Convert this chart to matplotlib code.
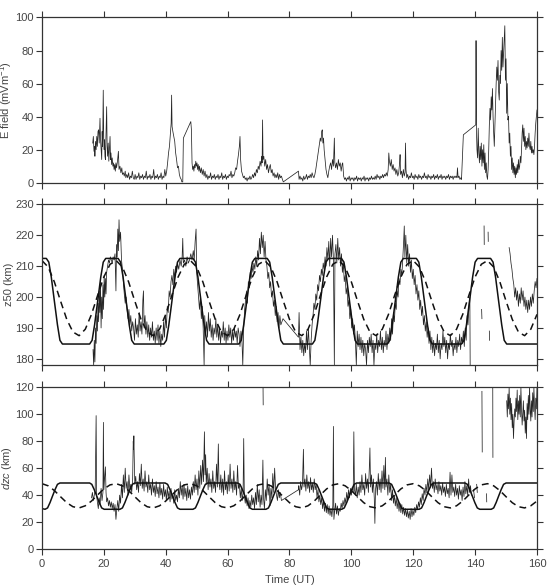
import numpy as np
import matplotlib
matplotlib.use("Agg")
import matplotlib.pyplot as plt

plt.rcParams["font.family"] = "Liberation Sans"
plt.rcParams["mathtext.fontset"] = "custom"
plt.rcParams["mathtext.rm"] = "Liberation Sans"
plt.rcParams["mathtext.it"] = "Liberation Sans:italic"

## --- E field (mV/m) ---
efield = [(16.4,24),(16.6,28),(16.8,19),(17.0,22),(17.1,16),(17.3,25),(17.5,20),(17.7,28),(17.9,22),(18.1,31),
    (18.3,32),(18.5,24),(18.75,39),(18.9,27),(19.1,21),(19.3,14),(19.45,31),(19.6,22),(19.8,56),(19.95,27),
    (20.1,20),(20.2,26),(20.35,16),(20.5,14),(20.7,30),(20.9,46),(21.05,22),(21.2,16),(21.4,24),(21.6,13),
    (21.8,21),(22.0,28),(22.15,14),(22.3,18),(22.5,11),(22.7,15),(22.9,10),(23.1,12),(23.3,8),(23.5,11),
    (23.7,7),(23.9,12),(24.1,9),(24.4,13),(24.7,19),(24.9,8),(25.2,10),(25.5,6),(25.8,9),(26.0,5),(26.3,6),
    (26.6,4),(26.9,7),(27.1,3),(27.4,5),(27.7,3),(28.0,6),(28.3,2),(28.6,4),(28.9,3),(29.2,7),(29.5,3),
    (29.8,2),(30.1,5),(30.4,2),(30.7,4),(31.0,3),(31.3,6),(31.6,2),(31.9,4),(32.2,3),(32.5,5),(32.8,2),
    (33.1,4),(33.4,3),(33.7,7),(34.0,2),(34.3,4),(34.6,3),(34.9,5),(35.2,2),(35.5,4),(35.8,3),(36.1,8),
    (36.4,2),(36.7,4),(37.0,3),(37.3,5),(37.6,2),(37.9,4),(38.2,3),(38.5,6),(38.8,2),(39.1,4),(39.4,3),
    (39.7,8),(40.0,4),(40.3,7),(40.6,12),(40.9,18),(41.2,22),(41.5,30),(41.75,36),(41.9,53),(42.05,34),
    (42.3,31),(42.6,28),(42.9,25),(43.2,18),(43.5,14),(43.8,9),(44.1,10),(44.4,5),(44.7,3),(45.0,2),
    (45.2,0.5),(45.5,0.5),(45.7,27),(48.1,37),(48.3,32),(48.5,12),(48.7,8),(48.9,10),(49.1,7),(49.3,11),
    (49.5,9),(49.7,13),(49.9,10),(50.1,12),(50.3,8),(50.5,11),(50.7,7),(50.9,10),(51.2,6),(51.5,9),(51.8,5),
    (52.1,8),(52.4,4),(52.7,7),(53.0,3),(53.3,5),(53.6,2),(53.9,4),(54.2,3),(54.5,6),(54.8,2),(55.1,4),
    (55.4,3),(55.7,5),(56.0,2),(56.3,4),(56.6,3),(56.9,5),(57.2,2),(57.5,4),(57.8,3),(58.1,6),(58.4,2),
    (58.7,4),(59.0,3),(59.3,5),(59.6,2),(59.9,4),(60.2,3),(60.5,5),(60.8,4),(61.1,7),(61.4,3),(61.7,5),
    (62.0,4),(62.3,6),(62.6,9),(62.9,8),(63.2,13),(63.5,17),(63.8,22),(64.0,28),(64.2,14),(64.5,7),(64.8,5),
    (65.1,3),(65.4,4),(65.7,2),(66.0,3),(66.3,1),(66.6,3),(66.9,2),(67.2,4),(67.5,2),(67.8,3),(68.1,5),
    (68.4,3),(68.7,6),(69.0,4),(69.3,8),(69.6,6),(69.9,10),(70.2,8),(70.5,13),(70.8,10),(71.0,16),(71.15,12),
    (71.3,38),(71.45,14),(71.7,16),(72.0,10),(72.3,14),(72.6,8),(72.9,11),(73.2,6),(73.5,9),(73.8,11),
    (74.1,6),(74.4,8),(74.7,4),(75.0,6),(75.3,3),(75.6,5),(75.9,3),(76.2,6),(76.5,2),(76.8,5),(77.1,3),
    (77.4,4),(77.7,2),(78.0,0.5),(82.9,7),(83.1,2),(83.4,4),(83.7,2),(84.0,3),(84.3,1),(84.6,4),(84.9,2),
    (85.2,3),(85.5,5),(85.8,2),(86.1,4),(86.4,3),(86.7,5),(87.0,3),(87.3,6),(87.6,4),(87.9,3),(88.2,5),
    (88.5,8),(88.8,12),(89.1,16),(89.4,20),(89.7,24),(89.95,27),(90.2,25),(90.4,31),(90.6,32),(90.8,24),
    (91.0,27),(91.2,20),(91.5,14),(91.8,8),(92.1,5),(92.4,3),(92.7,7),(93.0,10),(93.3,12),(93.6,8),(93.9,14),
    (94.2,10),(94.5,27),(94.65,12),(94.9,9),(95.2,12),(95.5,8),(95.8,14),(96.1,10),(96.4,12),(96.7,7),
    (97.0,11),(97.2,12),(97.5,4),(97.8,2),(98.1,3),(98.4,1),(98.7,3),(99.0,2),(99.3,4),(99.6,1),(99.9,3),
    (100.2,2),(100.5,3),(100.8,1),(101.1,3),(101.4,2),(101.7,4),(102.0,1),(102.3,3),(102.6,2),(102.9,3),
    (103.2,1),(103.5,3),(103.8,2),(104.1,4),(104.4,1),(104.7,3),(105.0,2),(105.3,3),(105.6,1),(105.9,3),
    (106.2,2),(106.5,4),(106.8,2),(107.1,3),(107.4,2),(107.7,4),(108.0,2),(108.3,5),(108.6,3),(108.9,4),
    (109.2,2),(109.5,4),(109.8,3),(110.1,5),(110.4,3),(110.7,5),(111.0,4),(111.3,6),(111.6,4),(111.9,8),
    (112.1,18),(112.3,13),(112.6,10),(112.9,14),(113.2,8),(113.5,11),(113.8,7),(114.1,9),(114.4,5),
    (114.7,8),(115.0,4),(115.3,6),(115.6,12),(115.75,17),(115.9,5),(116.2,7),(116.5,3),(116.8,8),(117.1,4),
    (117.35,6),(117.5,24),(117.65,8),(117.9,3),(118.2,5),(118.5,2),(118.8,4),(119.1,3),(119.4,6),(119.7,3),
    (120.0,4),(120.3,2),(120.6,5),(120.9,3),(121.2,4),(121.5,2),(121.8,5),(122.1,3),(122.4,4),(122.7,2),
    (123.0,4),(123.3,3),(123.6,6),(123.9,3),(124.2,4),(124.5,2),(124.8,5),(125.1,3),(125.4,4),(125.7,2),
    (126.0,4),(126.3,3),(126.6,5),(126.9,2),(127.2,4),(127.5,3),(127.8,5),(128.1,2),(128.4,4),(128.7,3),
    (129.0,5),(129.3,2),(129.6,4),(129.9,3),(130.2,4),(130.5,2),(130.8,4),(131.1,3),(131.4,5),(131.7,2),
    (132.0,4),(132.3,3),(132.6,4),(132.9,2),(133.2,4),(133.5,3),(133.8,4),(134.1,3),(134.3,9),(134.5,3),
    (134.8,4),(135.1,2),(135.4,3),(135.6,2),(136.2,29),(140.2,35),(140.3,86),(140.45,30),(140.6,20),
    (140.8,15),(141.0,33),(141.2,18),(141.4,12),(141.6,22),(141.8,14),(142.0,24),(142.2,10),(142.4,20),
    (142.6,12),(142.8,23),(143.0,8),(143.2,18),(143.4,6),(143.6,12),(143.8,4),(144.0,2),(144.2,8),
    (144.4,20),(144.6,35),(144.8,45),(145.0,38),(145.2,52),(145.4,44),(145.6,57),(145.8,40),(146.0,30),
    (146.2,22),(146.4,35),(146.6,48),(146.8,60),(147.0,70),(147.2,62),(147.4,74),(147.6,55),(147.8,50),
    (148.0,65),(148.2,60),(148.4,80),(148.6,68),(148.8,88),(149.0,70),(149.2,78),(149.4,85),(149.6,95),
    (149.8,62),(150.0,75),(150.2,42),(150.4,60),(150.6,38),(150.8,40),(151.0,24),(151.2,30),(151.4,16),
    (151.6,22),(151.8,8),(152.0,15),(152.2,6),(152.4,12),(152.6,5),(152.8,10),(153.0,3),(153.2,9),
    (153.4,5),(153.6,11),(153.8,6),(154.0,14),(154.2,8),(154.4,10),(154.6,16),(154.8,12),(155.0,20),
    (155.2,30),(155.4,35),(155.6,25),(155.8,33),(156.0,22),(156.2,28),(156.4,20),(156.6,25),(156.8,21),
    (157.0,27),(157.2,22),(157.4,30),(157.6,22),(157.8,20),(158.0,25),(158.2,18),(158.4,22),(158.6,18),
    (158.8,20),(159.0,17),(159.2,22),(159.4,30),(159.6,36),(159.8,40),(160.0,44)]

## --- z50 (km): observations, middle panel ---
z50_obs = [(16.5,183),(16.7,178),(16.9,186),(17.1,179),(17.3,190),(17.5,185),(17.7,194),(17.9,189),(18.1,198),
    (18.3,192),(18.5,202),(18.7,195),(18.9,205),(19.1,190),(19.3,200),(19.5,193),(19.7,204),(19.9,196),
    (20.1,207),(20.3,200),(20.5,206),(20.7,201),(20.9,208),(21.2,210),(21.5,212),(21.8,211),(22.1,213),
    (22.4,212),(22.7,211),(23.0,213),(23.3,212),(23.6,214),(23.9,202),(24.1,217),(24.3,213),(24.5,222),
    (24.7,215),(24.9,225),(25.1,218),(25.4,221),(25.7,212),(26.0,209),(26.3,205),(26.6,201),(26.9,198),
    (27.2,200),(27.5,196),(27.8,193),(28.1,196),(28.4,191),(28.7,194),(29.0,189),(29.3,192),(29.6,190),
    (29.9,186),(30.2,193),(30.5,188),(30.8,191),(31.1,187),(31.4,195),(31.7,189),(32.0,192),(32.3,188),
    (32.6,199),(32.8,202),(33.0,190),(33.3,194),(33.6,188),(33.9,192),(34.2,187),(34.5,191),(34.8,186),
    (35.1,190),(35.4,187),(35.7,192),(36.0,186),(36.3,189),(36.6,185),(36.9,190),(37.2,186),(37.5,191),
    (37.8,185),(38.1,189),(38.4,184),(38.7,188),(39.0,186),(39.3,192),(39.6,187),(39.9,194),(40.2,190),
    (40.5,197),(40.8,195),(41.1,202),(41.4,200),(41.7,205),(42.0,207),(42.3,204),(42.6,209),(42.9,206),
    (43.2,210),(43.5,208),(43.8,211),(44.2,209),(44.6,212),(45.0,210),(45.3,213),(45.5,219),(45.7,211),
    (46.1,212),(46.5,210),(46.9,213),(47.3,211),(47.7,212),(48.1,214),(48.5,212),(48.9,215),(49.2,212),
    (49.5,218),(49.8,222),(50.0,208),(50.3,204),(50.6,200),(50.9,196),(51.2,200),(51.5,193),(51.8,197),
    (52.1,190),(52.4,178),(52.6,194),(52.9,188),(53.2,192),(53.5,187),(53.8,195),(54.1,189),(54.4,193),
    (54.7,187),(55.0,191),(55.3,186),(55.6,190),(55.9,188),(56.2,193),(56.5,187),(56.8,191),(57.1,186),
    (57.4,190),(57.7,185),(58.0,189),(58.3,187),(58.6,192),(58.9,186),(59.2,190),(59.5,185),(59.8,189),
    (60.1,186),(60.4,191),(60.7,187),(61.0,190),(61.3,185),(61.6,189),(61.9,186),(62.2,190),(62.5,187),
    (62.8,189),(63.1,185),(63.4,190),(63.7,188),(64.0,184),(64.3,189),(64.6,187),(64.9,178),(65.2,190),
    (65.5,196),(65.8,199),(66.1,202),(66.4,198),(66.7,205),(67.0,203),(67.3,208),(67.6,206),(67.9,210),
    (68.2,208),(68.5,211),(68.8,209),(69.1,213),(69.4,210),(69.7,215),(70.0,212),(70.3,219),(70.6,214),
    (70.9,221),(71.2,216),(71.5,220),(71.8,213),(72.1,218),(72.4,212),(72.7,210),(73.0,206),(73.3,208),
    (73.6,203),(73.9,205),(74.2,200),(74.5,202),(74.8,197),(75.1,199),(75.4,194),(75.7,197),(76.0,192),
    (76.3,195),(76.6,190),(76.9,194),(77.2,191),(77.9,193),(82.9,187),(83.1,195),(83.4,183),(83.7,187),
    (84.0,182),(84.3,186),(84.6,181),(84.9,185),(85.2,182),(85.5,189),(85.8,183),(86.1,190),(86.4,184),
    (86.7,178),(87.0,186),(87.3,191),(87.6,194),(87.9,198),(88.2,196),(88.5,201),(88.8,199),(89.1,204),
    (89.4,202),(89.7,207),(90.0,205),(90.3,209),(90.6,207),(90.9,211),(91.2,209),(91.5,213),(91.8,210),
    (92.1,216),(92.4,212),(92.7,218),(93.0,210),(93.3,219),(93.6,213),(93.9,220),(94.2,212),(94.5,178),
    (94.7,214),(95.0,217),(95.3,211),(95.6,219),(95.9,212),(96.2,216),(96.5,210),(96.8,214),(97.1,208),
    (97.4,211),(97.7,205),(98.0,207),(98.3,201),(98.6,203),(98.9,197),(99.2,199),(99.5,193),(99.8,196),
    (100.1,190),(100.4,193),(100.7,188),(101.0,191),(101.3,186),(101.6,178),(101.9,189),(102.2,184),
    (102.5,188),(102.8,183),(103.1,187),(103.4,182),(103.7,186),(104.0,181),(104.3,185),(104.6,183),
    (104.9,178),(105.2,186),(105.5,182),(105.8,187),(106.1,184),(106.4,188),(106.7,182),(107.0,186),
    (107.3,178),(107.6,185),(107.9,183),(108.2,188),(108.5,182),(108.8,186),(109.1,184),(109.4,189),
    (109.7,183),(110.0,187),(110.3,182),(110.6,186),(110.9,184),(111.2,189),(111.5,183),(111.8,188),
    (112.1,185),(112.4,190),(112.7,186),(113.0,193),(113.3,188),(113.6,195),(113.9,192),(114.2,198),
    (114.5,196),(114.8,202),(115.1,200),(115.4,206),(115.7,204),(116.0,209),(116.3,207),(116.6,212),
    (116.9,218),(117.1,223),(117.3,213),(117.6,220),(117.9,211),(118.2,217),(118.5,210),(118.8,214),
    (119.1,208),(119.4,212),(119.7,206),(120.0,209),(120.3,204),(120.6,207),(120.9,201),(121.2,204),
    (121.5,199),(121.8,202),(122.1,196),(122.4,199),(122.7,194),(123.0,197),(123.3,191),(123.6,194),
    (123.9,189),(124.2,192),(124.5,187),(124.8,190),(125.1,185),(125.4,189),(125.7,183),(126.0,187),
    (126.3,182),(126.6,186),(126.9,181),(127.2,185),(127.5,183),(127.8,188),(128.1,182),(128.4,186),
    (128.7,180),(129.0,185),(129.3,183),(129.6,189),(129.9,184),(130.2,187),(130.5,182),(130.8,186),
    (131.1,180),(131.4,185),(131.7,183),(132.0,188),(132.3,184),(132.6,186),(132.9,181),(133.2,185),
    (133.5,183),(133.8,187),(134.1,182),(134.4,186),(134.7,184),(135.0,188),(135.3,183),(135.6,187),
    (135.9,185),(136.2,189),(136.5,184),(136.8,190),(137.1,186),(137.4,194),(137.7,191),(138.0,197),
    (138.3,200),(138.4,178)]
z50_dashes = [[(142.1,196),(142.2,193)], [(142.9,223),(142.95,217)],
              [(144.2,221),(144.25,218)], [(144.6,189),(144.65,186)]]
z50_end = [(151.0,216),(151.3,214),(151.6,211),(151.9,209),(152.2,206),(152.5,204),(152.8,200),(153.1,203),
    (153.4,199),(153.7,202),(154.0,197),(154.3,201),(154.6,198),(154.9,203),(155.2,199),(155.5,202),
    (155.8,197),(156.1,200),(156.4,196),(156.7,199),(157.0,195),(157.3,199),(157.6,196),(157.9,200),
    (158.2,197),(158.5,201),(158.8,198),(159.1,202),(159.4,205),(159.7,203),(160.0,206)]

## model curves, middle panel
z50_solid = [(0.0,212.5),(1.4,212.5),(2.2,211.3),(3.0,206.5),(4.0,198.7),(5.0,191.0),(5.8,186.0),(6.6,184.8),
    (15.4,184.8),(16.2,186.0),(17.0,191.0),(18.0,198.7),(19.0,206.5),(19.8,211.3),(20.6,212.5),
    (24.6,212.5),(25.4,211.3),(26.2,206.5),(27.2,198.7),(28.2,191.0),(29.0,186.0),(29.8,184.8),
    (39.4,184.8),(40.2,186.0),(41.0,191.0),(42.0,198.7),(43.0,206.5),(43.8,211.3),(44.6,212.5),
    (48.8,212.5),(49.6,211.3),(50.4,206.5),(51.4,198.7),(52.4,191.0),(53.2,186.0),(54.0,184.8),
    (63.6,184.8),(64.4,186.0),(65.2,191.0),(66.2,198.7),(67.2,206.5),(68.0,211.3),(68.8,212.5),
    (72.8,212.5),(73.6,211.3),(74.4,206.5),(75.4,198.7),(76.4,191.0),(77.2,186.0),(78.0,184.8),
    (87.4,184.8),(88.2,186.0),(89.0,191.0),(90.0,198.7),(91.0,206.5),(91.8,211.3),(92.6,212.5),
    (96.8,212.5),(97.6,211.3),(98.4,206.5),(99.4,198.7),(100.4,191.0),(101.2,186.0),(102.0,184.8),
    (111.6,184.8),(112.4,186.0),(113.2,191.0),(114.2,198.7),(115.2,206.5),(116.0,211.3),(116.8,212.5),
    (121.0,212.5),(121.8,211.3),(122.6,206.5),(123.6,198.7),(124.6,191.0),(125.4,186.0),(126.2,184.8),
    (135.6,184.8),(136.4,186.0),(137.2,191.0),(138.2,198.7),(139.2,206.5),(140.0,211.3),(140.8,212.5),
    (145.0,212.5),(145.8,211.3),(146.6,206.5),(147.6,198.7),(148.6,191.0),(149.4,186.0),(150.2,184.8),
    (160.0,184.8)]
model_t = np.arange(0, 162, 2)
z50_dashed = [211.8,209.7,204.9,198.7,192.8,188.7,187.5,189.6,194.4,200.6,206.5,210.6,
    211.8,209.7,204.9,198.7,192.8,188.7,187.5,189.6,194.4,200.6,206.5,210.6,
    211.8,209.7,204.9,198.7,192.8,188.7,187.5,189.6,194.4,200.6,206.5,210.6,
    211.8,209.7,204.9,198.7,192.8,188.7,187.5,189.6,194.4,200.6,206.5,210.6,
    211.8,209.7,204.9,198.7,192.8,188.7,187.5,189.6,194.4,200.6,206.5,210.6,
    211.8,209.7,204.9,198.7,192.8,188.7,187.5,189.6,194.4,200.6,206.5,210.6,
    211.8,209.7,204.9,198.7,192.8,188.7,187.5,189.6,194.4]

## --- dzc (km): observations, bottom panel ---
dzc_obs = [(16.0,38),(16.3,42),(16.6,36),(16.9,40),(17.2,44),(17.5,99),(17.65,40),(17.9,35),(18.2,30),
    (18.5,38),(18.8,33),(19.1,45),(19.4,36),(19.7,42),(19.85,94),(20.0,44),(20.3,55),(20.5,61),(20.7,42),
    (20.9,35),(21.2,38),(21.5,32),(21.8,36),(22.1,31),(22.4,35),(22.7,30),(23.0,34),(23.3,28),(23.6,33),
    (23.9,22),(24.2,30),(24.5,36),(24.8,28),(25.1,40),(25.4,34),(25.7,48),(26.0,38),(26.3,55),(26.6,42),
    (26.9,60),(27.2,45),(27.5,50),(27.8,40),(28.1,55),(28.4,44),(28.7,48),(29.0,42),(29.3,52),(29.5,80),
    (29.6,74),(29.7,84),(29.8,70),(30.0,48),(30.3,54),(30.6,44),(30.9,50),(31.2,42),(31.5,56),(31.8,47),
    (32.1,63),(32.4,45),(32.7,52),(33.0,43),(33.3,58),(33.6,46),(33.9,50),(34.2,42),(34.5,55),(34.8,44),
    (35.1,48),(35.4,40),(35.7,52),(36.0,42),(36.3,47),(36.6,39),(36.9,50),(37.2,41),(37.5,46),(37.8,38),
    (38.1,49),(38.4,40),(38.7,45),(39.0,37),(39.3,48),(39.6,39),(39.9,44),(40.2,36),(40.5,46),(40.8,38),
    (41.1,43),(41.4,35),(41.7,45),(42.0,37),(42.3,41),(42.6,34),(42.9,44),(43.2,36),(43.5,40),(43.8,35),
    (44.1,45),(44.4,38),(44.7,50),(45.0,40),(45.3,47),(45.6,37),(45.9,48),(46.2,39),(46.5,45),(46.8,36),
    (47.1,47),(47.4,38),(47.7,44),(48.0,37),(48.3,46),(48.6,40),(48.9,50),(49.2,42),(49.5,55),(49.8,44),
    (50.1,52),(50.4,40),(50.7,58),(51.0,45),(51.3,62),(51.6,48),(51.9,66),(52.2,50),(52.5,87),(52.7,55),
    (52.9,70),(53.1,48),(53.4,60),(53.7,44),(54.0,56),(54.3,46),(54.6,52),(54.9,42),(55.2,58),(55.5,45),
    (55.8,50),(56.1,42),(56.4,63),(56.7,46),(57.0,78),(57.2,50),(57.5,44),(57.8,55),(58.1,42),(58.4,52),
    (58.7,40),(59.0,58),(59.3,44),(59.6,50),(59.9,41),(60.2,55),(60.5,43),(60.8,63),(61.1,45),(61.4,52),
    (61.7,42),(62.0,58),(62.3,44),(62.6,50),(62.9,40),(63.2,62),(63.5,45),(63.8,48),(64.1,38),(64.4,45),
    (64.7,36),(65.0,42),(65.2,82),(65.4,40),(65.7,34),(66.0,40),(66.3,32),(66.6,38),(66.9,30),(67.2,36),
    (67.5,31),(67.8,40),(68.1,33),(68.4,38),(68.7,30),(69.0,42),(69.3,33),(69.6,48),(69.9,35),(70.2,44),
    (70.5,31),(70.8,40),(71.1,33),(71.4,66),(71.6,38),(71.9,30),(72.2,44),(72.5,36),(72.8,52),(73.1,40),
    (73.4,48),(73.7,32),(74.0,45),(74.3,38),(74.6,56),(74.9,42),(75.2,60),(75.5,45),(75.8,40),(76.1,36),
    (76.4,44),(76.7,38),(77.0,42),(77.4,36),(82.9,44),(83.0,47),(83.3,40),(83.6,50),(83.9,44),(84.2,48),
    (84.5,74),(84.7,46),(85.0,52),(85.3,43),(85.6,55),(85.9,45),(86.2,50),(86.5,42),(86.8,53),(87.1,44),
    (87.4,49),(87.7,42),(88.0,52),(88.3,44),(88.6,48),(88.9,38),(89.2,44),(89.5,35),(89.8,40),(90.1,33),
    (90.4,38),(90.7,30),(91.0,36),(91.3,28),(91.6,34),(91.9,27),(92.2,33),(92.5,26),(92.8,32),(93.1,25),
    (93.4,30),(93.7,24),(94.0,32),(94.2,91),(94.35,22),(94.6,28),(94.9,34),(95.2,26),(95.5,32),(95.8,25),
    (96.1,30),(96.4,28),(96.7,34),(97.0,30),(97.3,36),(97.6,32),(97.9,38),(98.2,34),(98.5,42),(98.8,36),
    (99.1,44),(99.4,38),(99.7,45),(100.0,40),(100.3,46),(100.6,42),(100.8,87),(101.0,44),(101.3,40),
    (101.6,48),(101.9,38),(102.2,46),(102.5,40),(102.8,50),(103.1,42),(103.4,55),(103.7,44),(104.0,48),
    (104.3,40),(104.6,56),(104.9,45),(105.2,52),(105.5,42),(105.8,60),(106.0,75),(106.2,46),(106.5,55),
    (106.8,42),(107.1,52),(107.4,38),(107.6,19),(107.8,44),(108.1,50),(108.4,40),(108.7,56),(109.0,44),
    (109.3,52),(109.6,42),(109.9,58),(110.2,45),(110.5,62),(110.8,44),(111.0,68),(111.2,46),(111.5,52),
    (111.8,40),(112.1,55),(112.4,42),(112.7,48),(113.0,36),(113.3,44),(113.6,34),(113.9,40),(114.2,32),
    (114.5,38),(114.8,30),(115.1,36),(115.4,28),(115.7,34),(116.0,27),(116.3,33),(116.6,26),(116.9,31),
    (117.2,25),(117.5,30),(117.8,24),(118.1,29),(118.4,23),(118.7,28),(119.0,22),(119.3,30),(119.6,24),
    (119.9,29),(120.2,25),(120.5,31),(120.8,27),(121.1,33),(121.4,29),(121.7,35),(122.0,31),(122.3,38),
    (122.6,33),(122.9,41),(123.2,36),(123.5,45),(123.8,40),(124.1,48),(124.4,42),(124.7,52),(125.0,44),
    (125.3,55),(125.6,46),(125.9,60),(126.2,45),(126.5,50),(126.8,42),(127.1,52),(127.4,44),(127.7,48),
    (128.0,41),(128.3,50),(128.6,43),(128.9,47),(129.2,40),(129.5,49),(129.8,42),(130.1,46),(130.4,39),
    (130.7,48),(131.0,41),(131.3,45),(131.6,38),(131.9,57),(132.2,40),(132.5,55),(132.8,42),(133.1,46),
    (133.4,39),(133.7,48),(134.0,40),(134.3,45),(134.6,37),(134.9,47),(135.2,40),(135.5,44),(135.8,36),
    (136.1,46),(136.4,39),(136.7,50),(137.0,41),(137.3,47),(137.6,40),(137.9,52),(138.2,42),(138.5,47),
    (138.8,40)]
dzc_dashes = [[(71.45,120),(71.5,107)], [(139.5,44),(139.8,38)], [(140.5,48),(140.7,42)],
              [(142.2,117),(142.3,72)], [(143.7,41),(143.75,35)], [(145.7,120),(145.75,68)]]
dzc_end = [(150.2,110),(150.4,98),(150.6,115),(150.8,104),(151.0,120),(151.2,100),(151.4,112),(151.6,96),
    (151.8,108),(152.0,90),(152.2,100),(152.4,82),(152.6,95),(152.8,104),(153.0,98),(153.2,112),(153.4,102),
    (153.6,118),(153.8,96),(154.0,110),(154.2,100),(154.4,114),(154.6,98),(154.8,120),(155.0,104),
    (155.2,92),(155.4,100),(155.6,110),(155.8,95),(156.0,103),(156.2,86),(156.4,98),(156.6,82),(156.8,108),
    (157.0,96),(157.2,114),(157.4,100),(157.6,120),(157.8,104),(158.0,95),(158.2,110),(158.4,98),
    (158.6,116),(158.8,102),(159.0,120),(159.2,106),(159.4,96),(159.6,112),(159.8,104),(160.0,120)]

dzc_solid = [(0,30.0),(1.0,29.5),(1.8,30.5),(2.6,34.5),(3.4,39.3),(4.2,44),(5.0,48),(5.8,49),
    (15.4,49),(16.1,48),(16.9,44),(17.7,39.3),(18.5,34.5),(19.3,30.5),(20.1,29.5),
    (25.2,29.5),(26.0,30.5),(26.8,34.5),(27.6,39.3),(28.4,44),(29.2,48),(30.0,49),
    (39.8,49),(40.6,48),(41.4,44),(42.2,39.3),(43.0,34.5),(43.8,30.5),(44.6,29.5),
    (48.8,29.5),(49.6,30.5),(50.4,34.5),(51.2,39.3),(52.0,44),(52.8,48),(53.6,49),
    (63.2,49),(64.0,48),(64.8,44),(65.6,39.3),(66.4,34.5),(67.2,30.5),(68.0,29.5),
    (72.4,29.5),(73.2,30.5),(74.0,34.5),(74.8,39.3),(75.6,44),(76.4,48),(77.2,49),
    (88.0,49),(88.8,48),(89.6,44),(90.4,39.3),(91.2,34.5),(92.0,30.5),(92.8,29.5),
    (96.9,29.5),(97.7,30.5),(98.5,34.5),(99.3,39.3),(100.1,44),(100.9,48),(101.7,49),
    (112.2,49),(113.0,48),(113.8,44),(114.6,39.3),(115.4,34.5),(116.2,30.5),(117.0,29.5),
    (121.9,29.5),(122.7,30.5),(123.5,34.5),(124.3,39.3),(125.1,44),(125.9,48),(126.7,49),
    (136.7,49),(137.5,48),(138.3,44),(139.1,39.3),(139.9,34.5),(140.7,30.5),(141.5,29.5),
    (145.2,29.5),(146.0,30.5),(146.8,34.5),(147.6,39.3),(148.4,44),(149.2,48),(150.0,49),
    (160,49)]
dzc_dashed = [48.5,46.9,43.4,38.8,34.4,31.4,30.5,32.1,35.6,40.2,44.6,47.6,
    48.5,46.9,43.4,38.8,34.4,31.4,30.5,32.1,35.6,40.2,44.6,47.6,
    48.5,46.9,43.4,38.8,34.4,31.4,30.5,32.1,35.6,40.2,44.6,47.6,
    48.5,46.9,43.4,38.8,34.4,31.4,30.5,32.1,35.6,40.2,44.6,47.6,
    48.5,46.9,43.4,38.8,34.4,31.4,30.5,32.1,35.6,40.2,44.6,47.6,
    48.5,46.9,43.4,38.8,34.4,31.4,30.5,32.1,35.6,40.2,44.6,47.6,
    48.5,46.9,43.4,38.8,34.4,31.4,30.5,32.1,35.6]

fig = plt.figure(figsize=(5.54, 5.85), dpi=100)
ax1 = fig.add_axes([0.0758, 0.6877, 0.8935, 0.2824])
ax2 = fig.add_axes([0.0758, 0.376, 0.8935, 0.2747])
ax3 = fig.add_axes([0.0758, 0.0615, 0.8935, 0.2764])

obs_kw = dict(color="#262626", lw=0.55)
mod_kw = dict(color="#111111", lw=1.1)

def xy(pairs):
    a = np.array(pairs, dtype=float)
    return a[:, 0], a[:, 1]

ax1.plot(*xy(efield), **obs_kw)

ax2.plot(*xy(z50_obs), **obs_kw)
for seg in z50_dashes:
    ax2.plot(*xy(seg), **obs_kw)
ax2.plot(*xy(z50_end), **obs_kw)
ax2.plot(*xy(z50_solid), **mod_kw)
ax2.plot(model_t, z50_dashed, ls=(0, (4.5, 3)), **mod_kw)

ax3.plot(*xy(dzc_obs), **obs_kw)
for seg in dzc_dashes:
    ax3.plot(*xy(seg), **obs_kw)
ax3.plot(*xy(dzc_end), **obs_kw)
ax3.plot(*xy(dzc_solid), **mod_kw)
ax3.plot(model_t, dzc_dashed, ls=(0, (4.5, 3)), **mod_kw)

##aesthetics
for ax in (ax1, ax2, ax3):
    ax.set_xlim(0, 160)
    ax.set_xticks(np.arange(0, 161, 20))
    ax.tick_params(direction="out", top=True, right=True, length=4, width=0.8, pad=2,
                   labelsize=8, colors="#333333", labelcolor="#444444")
    for sp in ax.spines.values():
        sp.set_color("#333333")
        sp.set_linewidth(0.9)
ax1.tick_params(labelbottom=False)
ax2.tick_params(labelbottom=False)
ax3.tick_params(axis="x", pad=3.5)

ax1.set(ylim=(0, 100), yticks=np.arange(0, 101, 20))
ax2.set(ylim=(178, 230), yticks=np.arange(180, 231, 10))
ax3.set(ylim=(0, 120), yticks=np.arange(0, 121, 20))

lab_kw = dict(fontsize=8, color="#444444")
ax1.set_ylabel("E field (mVm$^{-1}$)", **lab_kw)
ax2.set_ylabel("z50 (km)", **lab_kw)
ax3.set_ylabel("$dzc$ (km)", **lab_kw)
ax3.set_xlabel("Time (UT)", **lab_kw)
for ax in (ax1, ax2, ax3):
    ax.yaxis.set_label_coords(-0.056, 0.5)

fig.savefig("out.png", dpi=100)
